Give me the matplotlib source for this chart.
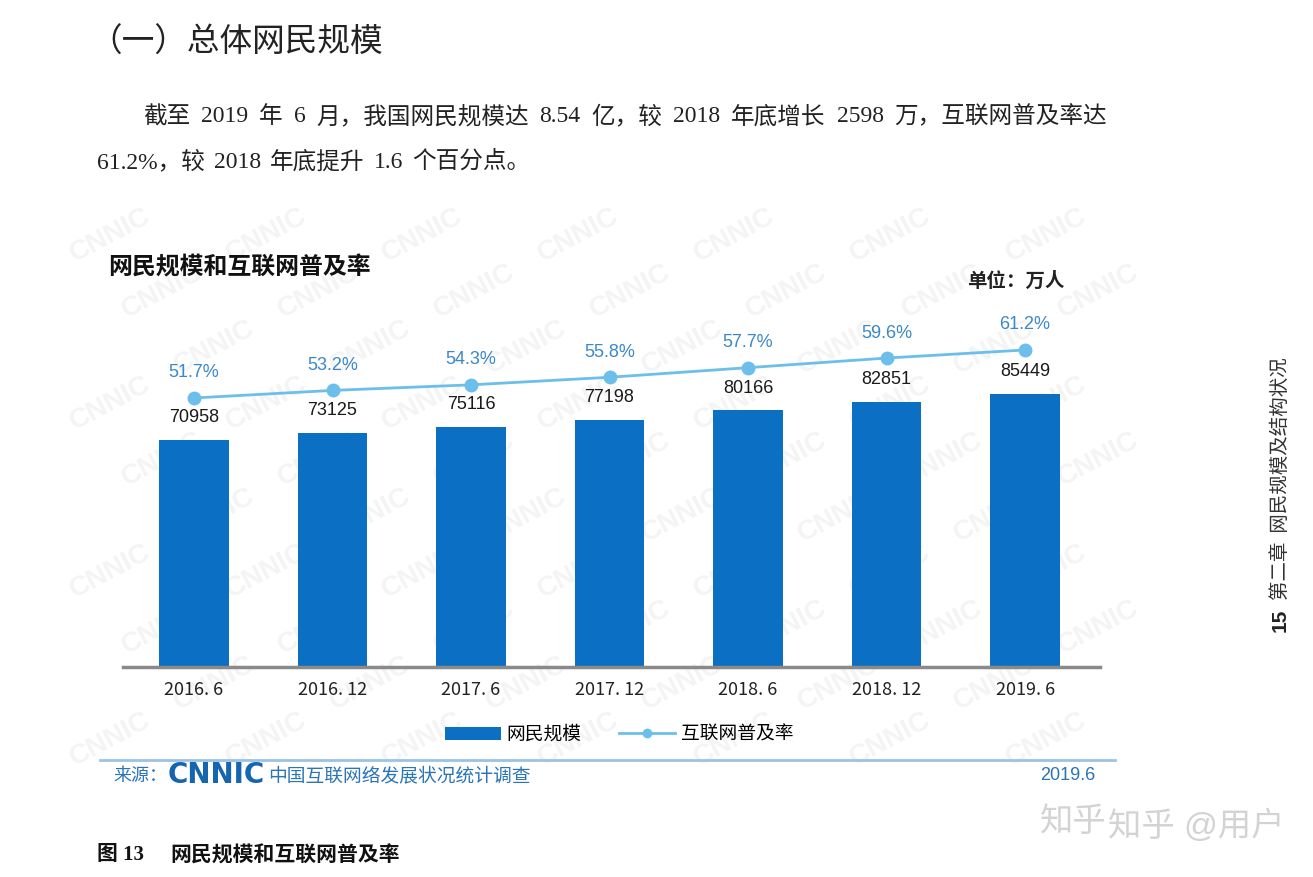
import matplotlib.pyplot as plt
import numpy as np

plt.rcParams['font.family'] = ['Liberation Sans', 'Noto Sans CJK SC']

# data
periods = ['2016. 6', '2016. 12', '2017. 6', '2017. 12', '2018. 6', '2018. 12', '2019. 6']
users = [70958, 73125, 75116, 77198, 80166, 82851, 85449]          # 万人
rate = [51.7, 53.2, 54.3, 55.8, 57.7, 59.6, 61.2]                  # %
rate_labels = ['51.7%', '53.2%', '54.3%', '55.8%', '57.7%', '59.6%', '61.2%']

W, H = 1313, 877
bar_color = '#0b6fc3'
line_color = '#6cbfea'
pct_color = '#3a88c9'
src_color = '#2a74b8'


def fx(x):
    return x / W


def fy(y):
    return 1 - y / H


fig = plt.figure(figsize=(W / 100, H / 100), dpi=100)
fig.patch.set_facecolor('white')
renderer = fig.canvas.get_renderer()


def justify(tokens, x0, x1, y, **kw):
    # spread the words so the line runs from x0 to x1 (pixels)
    objs = [fig.text(0, fy(y), t, ha='left', va='center', **kw) for t in tokens]
    widths = [o.get_window_extent(renderer).width for o in objs]
    gap = (x1 - x0 - sum(widths)) / (len(tokens) - 1)
    pos = x0
    for o, w in zip(objs, widths):
        o.set_x(fx(pos))
        pos += w + gap


# faint CNNIC watermark behind the chart
for row, yy in enumerate(np.arange(235, 790, 56)):
    shift = (row % 3) * 52
    for xx in np.arange(110 + shift, 1120, 156):
        fig.text(fx(xx), fy(yy), 'CNNIC', fontsize=20, fontweight='bold', color='#f4f4f4',
                 rotation=28, ha='center', va='center', zorder=-5)

# page text
fig.text(fx(89), fy(43), '（一）总体网民规模', fontsize=23.5, ha='left', va='center',
         family=['Noto Sans CJK SC'], color='#222222')
serif = dict(fontsize=17, family=['Liberation Serif', 'Noto Sans CJK SC'], color='#222222')
justify(['截至', '2019', '年', '6', '月，我国网民规模达', '8.54', '亿，较', '2018',
         '年底增长', '2598', '万，互联网普及率达'], 143, 1107, 117, **serif)
justify(['61.2%，较', '2018', '年底提升', '1.6', '个百分点。'], 97, 530, 162, **serif)

# chart
ax = fig.add_axes([fx(123), fy(667), (1100 - 123) / W, 367 / H])
ax.patch.set_alpha(0)
x = np.arange(len(periods))
bars = ax.bar(x, users, width=0.5, color=bar_color, label='网民规模', zorder=2)
ax.set_xlim(-0.513, 6.541)
ax.set_ylim(0, 114700)
for s in ['top', 'right', 'left']:
    ax.spines[s].set_visible(False)
ax.spines['bottom'].set_color('#8a8a8a')
ax.spines['bottom'].set_linewidth(2.5)
ax.set_yticks([])
ax.set_xticks(x)
ax.set_xticklabels(periods, fontsize=13, family=['Noto Sans CJK SC'], color='#222222')
ax.tick_params(axis='x', length=0, pad=10)
for i, v in enumerate(users):
    ax.annotate(str(v), (i, v), xytext=(0, 16), textcoords='offset points',
                ha='center', va='center', fontsize=13, color='#1a1a1a')

ax2 = ax.twinx()
ax2.patch.set_alpha(0)
line, = ax2.plot(x, rate, color=line_color, lw=2, marker='o', markersize=9,
                 markeredgecolor=line_color, label='互联网普及率', zorder=3)
ax2.set_ylim(-1.54, 71.09)
ax2.set_yticks([])
for s in ['top', 'right', 'left', 'bottom']:
    ax2.spines[s].set_visible(False)
for i, r in enumerate(rate):
    ax2.annotate(rate_labels[i], (i, r), xytext=(0, 18), textcoords='offset points',
                 ha='center', va='center', fontsize=13, color=pct_color)

fig.text(fx(108), fy(268), '网民规模和互联网普及率', fontsize=17.2, fontweight='bold',
         ha='left', va='center', color='#111111')
fig.text(fx(1065), fy(281), '单位：万人', fontsize=14, fontweight='bold',
         ha='right', va='center', color='#222222')

leg = fig.legend([bars, line], ['网民规模', '互联网普及率'], loc='center',
                 bbox_to_anchor=(fx(619), fy(735)), ncol=2, frameon=False, fontsize=13.5,
                 handlelength=3.0, handleheight=0.7, columnspacing=2.0, handletextpad=0.3)
leg.legend_handles[1].set_markersize(6)

# source strip
fig.add_artist(plt.Line2D([fx(100), fx(1115)], [fy(760), fy(760)], color='#9cc3e5', lw=2))
fig.text(fx(113), fy(776), '来源：', fontsize=13, color=src_color, ha='left', va='center')
fig.text(fx(168), fy(775), 'CNNIC', fontsize=20, fontweight='heavy', color='#1565b0',
         ha='left', va='center', family=['DejaVu Sans'])
fig.text(fx(268), fy(776), '中国互联网络发展状况统计调查', fontsize=13.5, color=src_color,
         ha='left', va='center')
fig.text(fx(1095), fy(776), '2019.6', fontsize=13, color=src_color, ha='right', va='center')

fig.text(fx(97), fy(855), '图 13', fontsize=15, fontweight='bold',
         ha='left', va='center', family=['Liberation Serif', 'Noto Sans CJK SC'], color='#111111')
fig.text(fx(170), fy(855), '网民规模和互联网普及率', fontsize=15, fontweight='bold',
         ha='left', va='center', family=['Noto Sans CJK SC'], color='#111111')

# running header on the side
fig.text(fx(1280), fy(632), '15', fontsize=15, fontweight='bold', rotation=90,
         ha='center', va='bottom', color='#222222')
fig.text(fx(1280), fy(600), '第二章  网民规模及结构状况', fontsize=14, rotation=90,
         ha='center', va='bottom', color='#333333', family=['Noto Sans CJK SC'])

# site watermark
fig.text(fx(1040), fy(822), '知乎', fontsize=24, color='#c8c8c8', ha='left', va='center', alpha=0.8)
fig.text(fx(1108), fy(826), '知乎 @用户', fontsize=24, color='#c8c8c8', ha='left', va='center', alpha=0.8)

fig.savefig('out.png', dpi=100)
